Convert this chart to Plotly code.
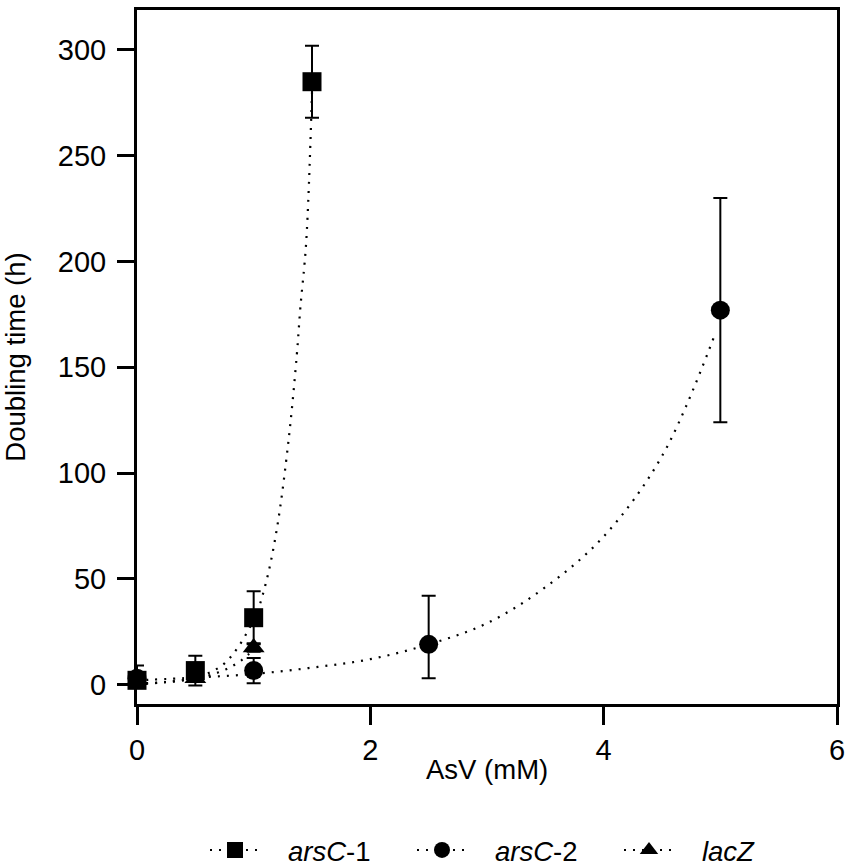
import plotly.graph_objects as go

# measured points (AsV mM -> doubling time h)
ars1_x = [0, 0.5, 1, 1.5]
ars1_y = [2, 6.6, 31.6, 285]
ars1_err = [2, 7, 12.5, 17]

ars2_x = [0, 1, 2.5, 5]
ars2_y = [3, 6.6, 19, 177]
ars2_err_up = [6, 6, 23, 53]
ars2_err_down = [3, 6, 16, 53]

lacz_x = [0, 0.5, 1]
lacz_y = [2, 3, 17.5]
lacz_err = [1, 1, 2]

# fitted curves
ars1_fit_x = [0, 0.25, 0.5, 0.75, 1.0, 1.1, 1.2, 1.3, 1.37, 1.4, 1.45, 1.5]
ars1_fit_y = [0.4, 1.1, 3.3, 10, 30.6, 47, 74, 116, 156, 178, 209, 280]

ars2_fit_x = [0, 0.5, 1, 1.5, 2, 2.5, 3, 3.5, 4, 4.5, 4.95]
ars2_fit_y = [2, 3.3, 5, 8, 12, 19, 29, 46, 70, 108, 165]

lacz_fit_x = [0, 0.25, 0.5, 0.6, 0.7, 0.8, 0.9, 1.0]
lacz_fit_y = [0.5, 1.2, 2.9, 4.1, 5.8, 8.2, 11.7, 16.6]

GAP = "\u00a0" * 3
names = [GAP + "<i>arsC</i>-1", GAP + "<i>arsC</i>-2", GAP + "<i>lacZ</i>"]
symbols = ["square", "circle", "triangle-up"]

FONT = "Liberation Sans, Arial, sans-serif"
DOT = "2px,7px"

fig = go.Figure()

fits = [(ars1_fit_x, ars1_fit_y), (ars2_fit_x, ars2_fit_y), (lacz_fit_x, lacz_fit_y)]
for fx, fy in fits:
    fig.add_trace(go.Scatter(x=fx, y=fy, mode="lines", showlegend=False,
                             line=dict(color="black", width=2.2, dash=DOT, shape="spline"),
                             hoverinfo="skip"))

pts = [
    (ars1_x, ars1_y, dict(type="data", array=ars1_err)),
    (ars2_x, ars2_y, dict(type="data", array=ars2_err_up, arrayminus=ars2_err_down)),
    (lacz_x, lacz_y, dict(type="data", array=lacz_err)),
]
for (px_, py_, err), sym in zip(pts, symbols):
    err.update(color="black", thickness=2, width=7)
    fig.add_trace(go.Scatter(x=px_, y=py_, mode="markers", showlegend=False,
                             error_y=err, cliponaxis=False,
                             marker=dict(symbol=sym, size=19, color="black")))

# legend entries
for name, sym in zip(names, symbols):
    fig.add_trace(go.Scatter(x=[None], y=[None], mode="lines+markers", name=name,
                             line=dict(color="black", width=2, dash=DOT),
                             marker=dict(symbol=sym, size=16, color="black")))

axis_common = dict(showline=True, linewidth=3, linecolor="black", mirror=True,
                   ticks="outside", tickwidth=3, tickcolor="black",
                   showgrid=False, zeroline=False,
                   tickfont=dict(family=FONT, size=29, color="black"))

fig.update_xaxes(range=[0, 6], tickvals=[0, 2, 4, 6], ticklen=18, ticklabelstandoff=0,
                 **axis_common)
fig.update_yaxes(range=[-9.2, 318.9], tickvals=[0, 50, 100, 150, 200, 250, 300], ticklen=17,
                 ticklabelstandoff=5,
                 title=dict(text="Doubling time (h)", font=dict(family=FONT, size=27.5, color="black"),
                            standoff=30),
                 **axis_common)

# x title sits tight under the tick labels
fig.add_annotation(text="AsV (mM)", xref="paper", yref="paper", x=0.5, y=-0.0951,
                   xanchor="center", yanchor="middle", showarrow=False,
                   font=dict(family=FONT, size=27.5, color="black"))

fig.update_layout(
    width=851, height=867,
    margin=dict(l=137, r=14, t=10, b=163, autoexpand=False),
    plot_bgcolor="white", paper_bgcolor="white",
    font=dict(family=FONT, size=27.5, color="black"),
    legend=dict(orientation="h", xref="container", yref="container",
                x=0.2409, xanchor="left", y=0.0196, yanchor="middle",
                font=dict(family=FONT, size=27.5, color="black"), itemwidth=50,
                entrywidth=142, bgcolor="rgba(0,0,0,0)"),
)

# drop the default page margin so the figure fills the window exactly
fig.write_html("out.html", config={"displayModeBar": False},
               post_script="document.body.style.margin = '0';")
